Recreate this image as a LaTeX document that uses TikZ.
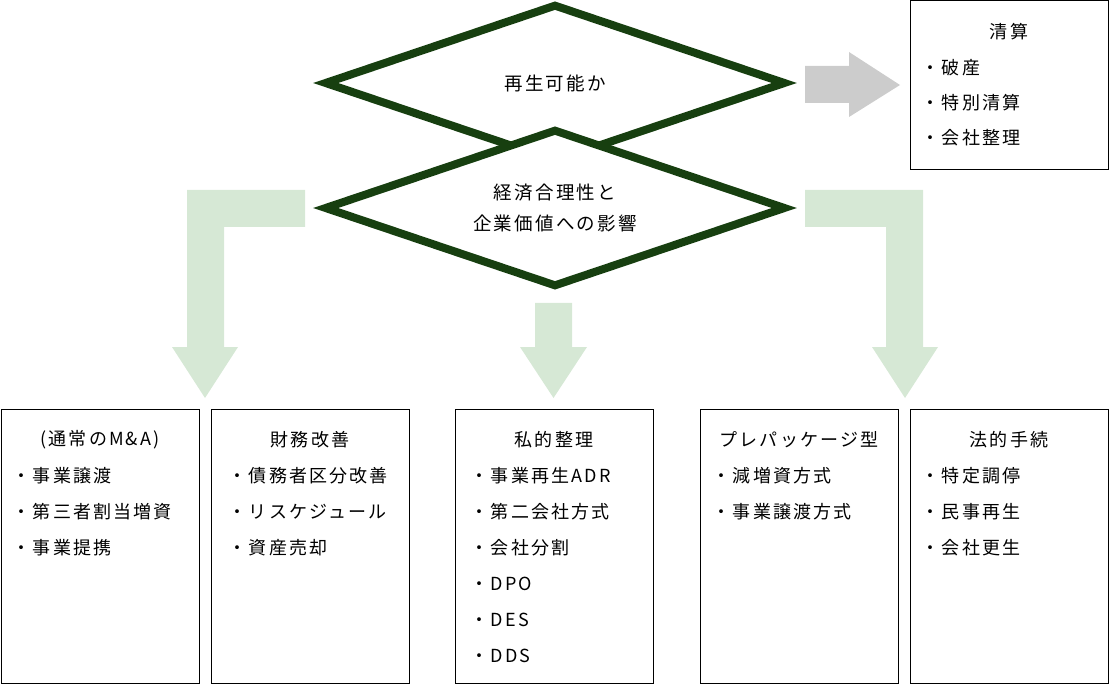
\documentclass[tikz,border=0pt]{standalone}
\usepackage{fontspec}
\usepackage{xcolor}
\usetikzlibrary{shapes.geometric,positioning}
\newfontfamily\cjk[LetterSpace=12]{Noto Sans CJK JP}
\definecolor{dkgreen}{HTML}{173F10}
\definecolor{ltgreen}{HTML}{D6E8D5}
\definecolor{ltgray}{HTML}{CCCCCC}
\tikzset{
  choice/.style={diamond, aspect=3, draw=dkgreen, line width=8pt, fill=white,
    minimum width=462pt, minimum height=158pt, inner sep=0pt, align=center,
    font=\cjk\fontsize{18.5}{31}\selectfont},
  listbox/.style={draw=black, line width=1pt, minimum width=198pt,
    minimum height=274pt, inner sep=0pt},
  boxtitle/.style={font=\cjk\fontsize{18}{20}\selectfont, inner sep=0pt},
  boxitem/.style={font=\cjk\fontsize{18}{20}\selectfont, inner sep=0pt, anchor=west},
  blockarrow/.style={fill=ltgreen, draw=none}
}
\begin{document}
\begin{tikzpicture}[x=1pt, y=-1pt]
\useasboundingbox (0,0) rectangle (1110,684);

% arrows
\fill[ltgray] (805,66) -- (849,66) -- (849,52) -- (900,85) -- (849,117) -- (849,103) -- (805,103) -- cycle;
\path[blockarrow] (187,190) -- (305,190) -- (305,227) -- (224,227) -- (224,347) -- (238,347)
  -- (205,398) -- (172,347) -- (187,347) -- cycle;
\path[blockarrow] (923,190) -- (805,190) -- (805,227) -- (886,227) -- (886,347) -- (872,347)
  -- (905,398) -- (938,347) -- (923,347) -- cycle;
\path[blockarrow] (535,303) -- (572,303) -- (572,347) -- (587,347) -- (553.5,398)
  -- (520,347) -- (535,347) -- cycle;

% decisions
\node[choice] (saisei) at (555,83) {再生可能か};
\node[choice] (keizai) at (555,208) {経済合理性と\\企業価値への影響};

% boxes
\node[listbox, minimum height=169pt] (seisan) at (1009,85.5) {};
\node[listbox] (mna) at (100,546) {};
\node[listbox] (zaimu) at (310,546) {};
\node[listbox] (shiteki) at (554,546) {};
\node[listbox] (prepack) at (799,546) {};
\node[listbox] (houteki) at (1009,546) {};

% texts
\node[boxtitle] at ([yshift=-31]seisan.north) {清算};
\foreach \t [count=\i] in {破産, 特別清算, 会社整理}
  \node[boxitem] at ([xshift=12, yshift=-32-35*\i]seisan.north west) {・\t};

\node[boxtitle] at ([yshift=-31]mna.north) {(通常のM\&A)};
\foreach \t [count=\i] in {事業譲渡, 第三者割当増資, 事業提携}
  \node[boxitem] at ([xshift=12, yshift=-31-36*\i]mna.north west) {・\t};

\node[boxtitle] at ([yshift=-31]zaimu.north) {財務改善};
\foreach \t [count=\i] in {債務者区分改善, リスケジュール, 資産売却}
  \node[boxitem] at ([xshift=18, yshift=-31-36*\i]zaimu.north west) {・\t};

\node[boxtitle] at ([yshift=-31]shiteki.north) {私的整理};
\foreach \t [count=\i] in {事業再生ADR, 第二会社方式, 会社分割, DPO, DES, DDS}
  \node[boxitem] at ([xshift=16, yshift=-31-36*\i]shiteki.north west) {・\t};

\node[boxtitle] at ([yshift=-31]prepack.north) {プレパッケージ型};
\foreach \t [count=\i] in {減増資方式, 事業譲渡方式}
  \node[boxitem] at ([xshift=13, yshift=-31-36*\i]prepack.north west) {・\t};

\node[boxtitle] at ([yshift=-31]houteki.north) {法的手続};
\foreach \t [count=\i] in {特定調停, 民事再生, 会社更生}
  \node[boxitem] at ([xshift=12, yshift=-31-36*\i]houteki.north west) {・\t};
\end{tikzpicture}
\end{document}
